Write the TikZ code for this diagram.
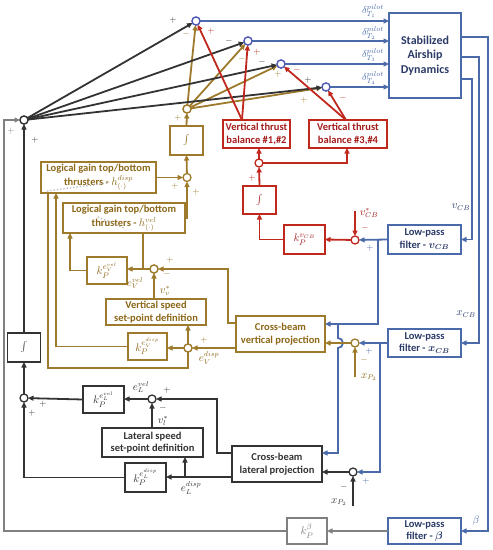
\documentclass[tikz,border=0pt]{standalone}
\usepackage{fontspec}
\usepackage{bm}
\setmainfont{Carlito}
\usetikzlibrary{arrows.meta}
\definecolor{bl}{RGB}{74,106,170}
\definecolor{bltx}{RGB}{43,58,103}
\definecolor{ol}{RGB}{158,122,44}
\definecolor{oltx}{RGB}{140,104,24}
\definecolor{rd}{RGB}{192,40,30}
\definecolor{rdtx}{RGB}{165,28,28}
\definecolor{dk}{RGB}{51,51,51}
\definecolor{gr}{RGB}{128,128,128}
\definecolor{sv}{RGB}{80,90,180}
\begin{document}
\begin{tikzpicture}[x=1pt,y=-1pt,>={Triangle[length=5.5pt,width=5pt]},
 ln/.style={line width=1.8pt},
 box/.style={draw,line width=1.8pt,fill=white,align=center,inner sep=1pt,outer sep=0pt,font=\fontsize{10.5}{12.5}\selectfont\bfseries},
 kbox/.style={draw,line width=1.8pt,fill=white,align=center,inner sep=1pt,outer sep=0pt,font=\fontsize{11}{11}\selectfont},
 sumn/.style={circle,draw,fill=white,line width=1.3pt,minimum size=8pt,inner sep=0pt,outer sep=0pt},
 sg/.style={font=\fontsize{9}{9}\selectfont,inner sep=0pt},
 lb/.style={font=\fontsize{10.5}{10.5}\selectfont,inner sep=0pt},
 dl/.style={font=\fontsize{10}{10}\selectfont,inner sep=0pt,text=bl}]
\useasboundingbox (0,0) rectangle (493,550);

% ---------- boxes ----------
\node[box,draw=bl,text=bltx,minimum width=72pt,minimum height=85pt,font=\fontsize{12}{14.5}\selectfont\bfseries] (dyn) at (425,55.5) {Stabilized\\Airship\\Dynamics};
\node[box,draw=bl,text=bltx,minimum width=73pt,minimum height=29pt] (lpfv) at (424.5,239.5) {Low-pass\\filter - $\bm{v_{CB}}$};
\node[box,draw=bl,text=bltx,minimum width=73pt,minimum height=28pt] (lpfx) at (424.5,343) {Low-pass\\filter - $\bm{x_{CB}}$};
\node[box,draw=bl,text=bltx,minimum width=73pt,minimum height=26pt] (lpfb) at (424.5,531) {Low-pass\\filter - $\bm{\beta}$};
\node[kbox,draw=gr,text=gr,minimum width=40pt,minimum height=26pt] (kbeta) at (307,531) {$k_P^{\beta}$};

\node[box,draw=rd,text=rdtx,minimum width=67pt,minimum height=28pt] (vtb1) at (256.5,134) {Vertical thrust\\balance \#1,\#2};
\node[box,draw=rd,text=rdtx,minimum width=78pt,minimum height=28pt] (vtb2) at (348,134) {Vertical thrust\\balance \#3,\#4};
\node[kbox,draw=rd,text=rdtx,minimum width=33pt,minimum height=28pt] (rint) at (259.5,200) {$\int$};
\node[kbox,draw=rd,text=rdtx,minimum width=41pt,minimum height=29pt] (kvcb) at (304.5,239.5) {$k_P^{v_{CB}}$};

\node[kbox,draw=ol,text=oltx,minimum width=33pt,minimum height=29pt] (oint) at (186.5,140.5) {$\int$};
\node[box,draw=ol,text=oltx,minimum width=115pt,minimum height=31pt,font=\fontsize{10.5}{14}\selectfont\bfseries] (hdisp) at (98.5,177.5) {Logical gain top/bottom\\thrusters - $h_{(\cdot)}^{disp}$};
\node[box,draw=ol,text=oltx,minimum width=122pt,minimum height=30pt,font=\fontsize{10.5}{14}\selectfont\bfseries] (hvel) at (124,218) {Logical gain top/bottom\\thrusters - $h_{(\cdot)}^{vel}$};
\node[kbox,draw=ol,text=oltx,minimum width=40pt,minimum height=27pt] (kVvel) at (107,270.5) {$k_P^{e_V^{vel}}$};
\node[box,draw=ol,text=oltx,minimum width=100pt,minimum height=26pt] (vssd) at (156,312) {Vertical speed\\set-point definition};
\node[kbox,draw=ol,text=oltx,minimum width=39pt,minimum height=27pt] (kVdisp) at (147.5,346.5) {$k_P^{e_V^{disp}}$};
\node[box,draw=ol,text=oltx,minimum width=89pt,minimum height=36pt] (vert) at (280.5,334) {Cross-beam\\vertical projection};

\node[kbox,draw=dk,text=dk,minimum width=33pt,minimum height=29pt] (bint) at (24,347.5) {$\int$};
\node[kbox,draw=dk,text=dk,minimum width=41pt,minimum height=27pt] (kLvel) at (103.5,399.5) {$k_P^{e_L^{vel}}$};
\node[box,draw=dk,text=dk,minimum width=101pt,minimum height=29pt] (lssd) at (152.5,442.5) {Lateral speed\\set-point definition};
\node[kbox,draw=dk,text=dk,minimum width=41pt,minimum height=29pt] (kLdisp) at (145.5,477.5) {$k_P^{e_L^{disp}}$};
\node[box,draw=dk,text=dk,minimum width=90pt,minimum height=36pt] (lat) at (277,464) {Cross-beam\\lateral projection};

% dotted marks
\draw[gray!55,dotted,line width=1.3pt] (47,191) -- (108,183);
\draw[gray!55,dotted,line width=1.3pt] (98,217) -- (124,228);

% ---------- summing junctions ----------
\node[sumn,draw=sv] (s1) at (196,21) {};
\node[sumn,draw=sv] (s2) at (248,41) {};
\node[sumn,draw=sv] (s3) at (281,64) {};
\node[sumn,draw=sv] (s4) at (326,87) {};
\node[sumn,draw=dk] (L) at (24,120) {};
\node[sumn,draw=ol] (osum) at (187,109) {};
\node[sumn,draw=ol] (os2) at (187,177.5) {};
\node[sumn,draw=ol] (os3) at (154,269) {};
\node[sumn,draw=ol] (os4) at (188,348) {};
\node[sumn,draw=ol] (os5) at (355,343) {};
\node[sumn,draw=rd] (rs1) at (259,163) {};
\node[sumn,draw=rd] (rs2) at (355,240) {};
\node[sumn,draw=dk] (bs1) at (24,398) {};
\node[sumn,draw=dk] (bs2) at (152,399) {};
\node[sumn,draw=dk] (bs3) at (353,472) {};

\coordinate (v1t) at (242,120);
\coordinate (v2t) at (346,120);
\coordinate (vcbs) at (355,211);
\coordinate (xpo) at (355,377);
\coordinate (xpb) at (353,506);

% ---------- top fan ----------
\foreach \s in {s1,s2,s3,s4} \draw[ln,ol,->] (osum) -- (\s);
\foreach \s in {s1,s2,s3,s4} \draw[ln,dk,->] (L) -- (\s);
\draw[ln,rd,->] (v1t) -- (s1);
\draw[ln,rd,->] (v1t) -- (s2);
\draw[ln,rd,->] (v2t) -- (s3);
\draw[ln,rd,->] (v2t) -- (s4);
\foreach \s in {s1,s2,s3,s4} \draw[ln,bl,->] (\s) -- (\s -| dyn.west);
\foreach \s in {s1,s2,s3,s4} \node[sumn,draw=sv] at (\s) {};
\node[sumn,draw=dk] at (L) {};
\node[sumn,draw=ol] at (osum) {};

\node[dl] at (373,11) {$\delta_{T_1}^{pilot}$};
\node[dl] at (373,33) {$\delta_{T_2}^{pilot}$};
\node[dl] at (373,55) {$\delta_{T_3}^{pilot}$};
\node[dl] at (373,78) {$\delta_{T_4}^{pilot}$};

% signs at s1..s4
\node[sg,text=dk] at (173,20) {$+$};
\node[sg,text=ol] at (186,34) {$-$};
\node[sg,text=rd] at (211,31) {$+$};
\node[sg,text=dk] at (229,41) {$-$};
\node[sg,text=ol] at (242,59) {$-$};
\node[sg,text=rd] at (257,52) {$+$};
\node[sg,text=dk] at (262,62) {$-$};
\node[sg,text=ol] at (278,74) {$+$};
\node[sg,text=rd] at (297,70) {$-$};
\node[sg,text=dk] at (308,80) {$+$};
\node[sg,text=ol] at (304,100) {$+$};
\node[sg,text=rd] at (343,98) {$-$};

% ---------- dynamics outputs ----------
\draw[ln,bl,->] (dyn.east |- 0,37) -- (488,37) |- (lpfb.east);
\draw[ln,bl,->] (dyn.east |- 0,57) -- (479,57) |- (lpfx.east);
\draw[ln,bl,->] (dyn.east |- 0,79) -- (472,79) |- (lpfv.east);
\node[lb,text=bltx] at (461,207) {$v_{CB}$};
\node[lb,text=bltx] at (466,314) {$x_{CB}$};
\node[lb,text=bl] at (476,521) {$\beta$};

% ---------- red part ----------
\draw[ln,rd,->] (rs1) -- (rs1 |- vtb1.south);
\draw[ln,rd,->] (rs1) -| ([xshift=-1pt]vtb2.south);
\draw[ln,rd,->] (rint.north) -- (rs1);
\draw[ln,rd,->] (kvcb.west) -| (rint.south);
\draw[ln,rd,->] (rs2) -- (kvcb.east);
\draw[ln,rd,->] (vcbs) -- (rs2);
\draw[ln,bl,->] (lpfv.west) -- (rs2);
\node[sg,text=rd] at (252,178) {$+$};
\node[sg,text=rd] at (365,228) {$-$};
\node[sg,text=bl] at (370,248) {$+$};
\node[lb,text=rdtx] at (369,213) {$v_{CB}^{*}$};

% ---------- blue branches ----------
\coordinate (bv) at (378,239.5);
\draw[ln,bl,->] (bv) |- (vert.east |- 0,324);
\draw[ln,bl,->] (338,324) -- (338,338) arc[start angle=-90,end angle=90,radius=5] -- (338,453) -- (lat.east |- 0,453);
\draw[ln,bl,->] (lpfx.west) -- (os5);
\coordinate (bx) at (380,343);
\draw[ln,bl,->] (bx) |- (bs3);
\draw[ln,ol,->] (os5) -- (os5 -| vert.east);
\draw[ln,ol,->] (xpo) -- (os5);
\node[sg,text=bl] at (369,351) {$+$};
\node[sg,text=ol] at (364,360) {$-$};
\node[lb,text=oltx] at (369,377) {$x_{P_2}$};
\draw[ln,dk,->] (bs3) -- (bs3 -| lat.east);
\draw[ln,dk,->] (xpb) -- (bs3);
\node[sg,text=bl] at (366,481) {$+$};
\node[sg,text=dk] at (344,487) {$-$};
\node[lb,text=dk] at (339,502) {$x_{P_2}$};

% ---------- gray beta path ----------
\draw[ln,gr,->] (lpfb.west) -- (kbeta.east);
\draw[ln,gr,->] (kbeta.west) -- (4,531) |- (L.west);
\node[sg,text=gr] at (11,131) {$+$};
\node[sg,text=dk] at (35,140) {$+$};

% ---------- black lateral path ----------
\draw[ln,dk,->] (bint.north) -- (L);
\draw[ln,dk,->] (bs1) -- (bint.south);
\draw[ln,dk,->] (kLvel.west) -- (bs1);
\draw[ln,dk,->] (kLdisp.west) -| (bs1);
\draw[ln,dk,->] (bs2) -- (bs2 -| kLvel.east);
\draw[ln,dk,->] (lat.west |- 0,453) -- (217,453) |- (bs2);
\draw[ln,dk,->] (lssd.north -| bs2) -- (bs2);
\draw[ln,dk,->] (lat.west |- 0,477) -- (kLdisp.east |- 0,477);
\draw[ln,dk,->] (185,477) -- (lssd.south -| 185,0);
\node[sg,text=dk] at (43,404) {$+$};
\node[sg,text=dk] at (32,413) {$+$};
\node[sg,text=dk] at (167,390) {$+$};
\node[sg,text=dk] at (163,408) {$-$};
\node[lb,text=dk] at (141,387) {$e_L^{vel}$};
\node[lb,text=dk] at (163,421) {$v_l^{*}$};
\node[lb,text=dk] at (191,488) {$e_L^{disp}$};

% ---------- olive vertical path ----------
\draw[ln,ol,->] (vert.west |- 0,323) -- (228,323) |- (os3);
\draw[ln,ol,->] (vert.west |- os4) -- (os4);
\draw[ln,ol,->] (os4) -- (os4 |- vssd.south);
\draw[ln,ol,->] (os4) -- (os4 -| kVdisp.east);
\draw[ln,ol] (os4) -- (188,368) -| (hdisp.south -| 48,0);
\draw[ln,ol,->] (kVdisp.west) -| (hdisp.south -| 56,0);
\draw[ln,ol,->] (os3 |- vssd.north) -- (os3);
\draw[ln,ol,->] (os3) -- (os3 -| kVvel.east);
\draw[ln,ol] (143,269) -- (hvel.south -| 143,0);
\draw[ln,ol,->] (kVvel.west) -| (hvel.south -| 70,0);
\draw[ln,ol,->] (hvel.east) -| (os2);
\draw[ln,ol,->] (hdisp.east) -- (os2);
\draw[ln,ol,->] (os2) -- (oint.south);
\draw[ln,ol,->] (oint.north) -- (osum);
\node[sumn,draw=ol] at (os3) {};
\node[sumn,draw=ol] at (os4) {};
\node[sg,text=ol] at (178,118) {$+$};
\node[sg,text=ol] at (175,186) {$+$};
\node[sg,text=ol] at (196,192) {$+$};
\node[sg,text=ol] at (170,260) {$+$};
\node[sg,text=ol] at (167,274) {$-$};
\node[sg,text=ol] at (204,340) {$+$};
\node[lb,text=oltx] at (135,283) {$e_V^{vel}$};
\node[lb,text=oltx] at (165,291) {$v_v^{*}$};
\node[lb,text=oltx] at (209,358) {$e_V^{disp}$};
\end{tikzpicture}
\end{document}
